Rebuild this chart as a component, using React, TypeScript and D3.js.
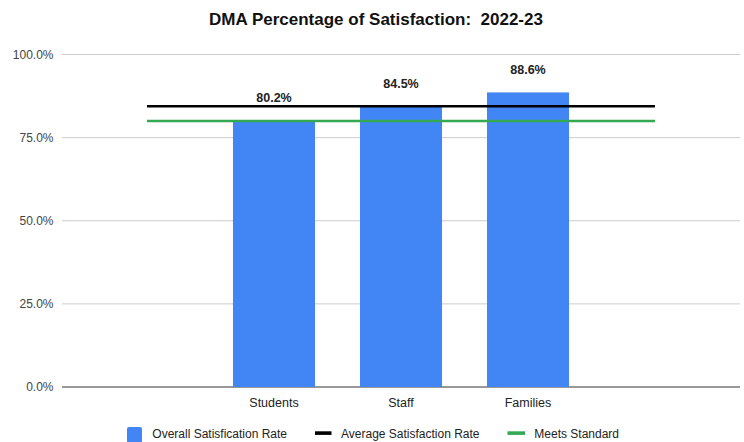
import * as d3 from 'd3';
import React, { useRef, useEffect } from 'react';

// chart values
const slots = ['_start', 'Students', 'Staff', 'Families', '_end'];
const categories = ['Students', 'Staff', 'Families'];
const satisfaction = [80.2, 84.5, 88.6];
const averageRate = [84.4, 84.4, 84.4, 84.4, 84.4];
const meetsStandard = [80, 80, 80, 80, 80];
const yTicks = [0, 25, 50, 75, 100];
const legendLabels = ['Overall Satisfication Rate', 'Average Satisfaction Rate', 'Meets Standard'];

const App: React.FC = () => {
    const svgRef = useRef<SVGSVGElement | null>(null);

    useEffect(() => {
        const width = 744;
        const height = 442;
        const l = 62;
        const r = 740;
        const top = 54.5;
        const bottom = 387;

        const svg = d3.select(svgRef.current).attr('width', width).attr('height', height);
        svg.selectAll('*').remove();

        svg.append('rect').attr('width', width).attr('height', height).attr('fill', '#FFFFFF');

        const font = "'Liberation Sans', Arial, sans-serif";

        const x = d3.scaleBand<string>().domain(slots).range([l, r]).paddingInner(0.354).paddingOuter(0.346);
        const y = d3.scaleLinear().domain([0, 100]).range([bottom, top]);
        const cx = (s: string) => (x(s) as number) + x.bandwidth() / 2;

        // title
        svg.append('text')
            .attr('x', 376)
            .attr('y', 25)
            .attr('text-anchor', 'middle')
            .attr('font-family', font)
            .attr('font-weight', 'bold')
            .attr('font-size', 17)
            .attr('fill', '#111')
            .style('white-space', 'pre')
            .text('DMA Percentage of Satisfaction:  2022-23');

        // grid + y labels
        const yAxis = svg.append('g');
        yTicks.forEach(t => {
            yAxis.append('line')
                .attr('x1', l).attr('x2', r)
                .attr('y1', y(t)).attr('y2', y(t))
                .attr('stroke', t === 0 ? '#333' : '#ccc')
                .attr('stroke-width', 1);
            yAxis.append('text')
                .attr('x', 53.5)
                .attr('y', y(t))
                .attr('dy', '0.35em')
                .attr('text-anchor', 'end')
                .attr('font-family', font)
                .attr('font-size', 12)
                .attr('fill', '#444')
                .text(d3.format('.1f')(t) + '%');
        });

        // bars
        svg.selectAll('rect.bar')
            .data(categories)
            .enter()
            .append('rect')
            .attr('class', 'bar')
            .attr('x', d => x(d) as number)
            .attr('width', x.bandwidth())
            .attr('y', (d, i) => y(satisfaction[i]))
            .attr('height', (d, i) => bottom - y(satisfaction[i]))
            .attr('fill', '#4285f4');

        // bar labels
        svg.selectAll('text.val')
            .data(categories)
            .enter()
            .append('text')
            .attr('class', 'val')
            .attr('x', d => cx(d))
            .attr('y', (d, i) => y(satisfaction[i]) - 18)
            .attr('text-anchor', 'middle')
            .attr('font-family', font)
            .attr('font-weight', 'bold')
            .attr('font-size', 12.5)
            .attr('fill', '#222')
            .text((d, i) => d3.format('.1f')(satisfaction[i]) + '%');

        // lines
        const line = d3.line<number>().x((d, i) => cx(slots[i])).y(d => y(d));
        svg.append('path').datum(meetsStandard)
            .attr('d', line).attr('fill', 'none').attr('stroke', '#34a853').attr('stroke-width', 2.5);
        svg.append('path').datum(averageRate)
            .attr('d', line).attr('fill', 'none').attr('stroke', '#000').attr('stroke-width', 2.5);

        // category labels
        categories.forEach(c => {
            svg.append('text')
                .attr('x', cx(c))
                .attr('y', 406.5)
                .attr('text-anchor', 'middle')
                .attr('font-family', font)
                .attr('font-size', 12.5)
                .attr('fill', '#222')
                .text(c);
        });

        // legend
        const legend = svg.append('g');
        legend.append('rect').attr('x', 127).attr('y', 427).attr('width', 15).attr('height', 16).attr('rx', 2).attr('fill', '#4285f4');
        legend.append('rect').attr('x', 315).attr('y', 431.3).attr('width', 16.5).attr('height', 3.6).attr('fill', '#000');
        legend.append('rect').attr('x', 507.5).attr('y', 431.3).attr('width', 17.5).attr('height', 3.6).attr('fill', '#34a853');
        const legendX = [152.3, 341, 534.3];
        legendLabels.forEach((t, i) => {
            legend.append('text')
                .attr('x', legendX[i])
                .attr('y', 438)
                .attr('font-family', font)
                .attr('font-size', 12)
                .attr('fill', '#222')
                .text(t);
        });
    }, []);

    return <svg ref={svgRef} style={{ position: 'absolute', left: 0, top: 0 }}></svg>;
};

export default App;
